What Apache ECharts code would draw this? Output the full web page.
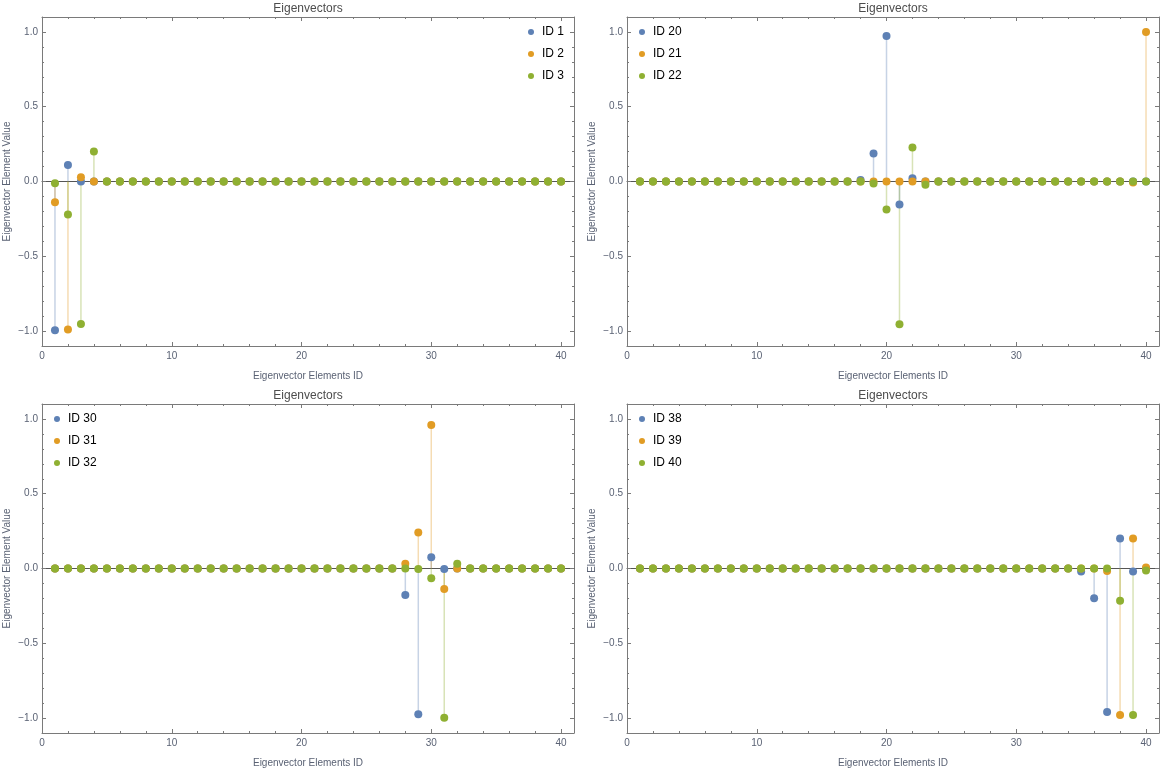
<!DOCTYPE html>
<html>
<head>
<meta charset="utf-8">
<title>Eigenvectors</title>
<script src="https://cdn.jsdelivr.net/npm/echarts@6/dist/echarts.min.js"></script>
<style>
html,body{margin:0;padding:0;background:#fff;}
#main{width:1161px;height:772px;}
</style>
</head>
<body>
<div id="main"></div>
<script>
// eigenvector element ids (x)
var elementIds = [1,2,3,4,5,6,7,8,9,10,11,12,13,14,15,16,17,18,19,20,
                  21,22,23,24,25,26,27,28,29,30,31,32,33,34,35,36,37,38,39,40];

// panel 1
var id1  = [-0.994,0.11,0,0,0,0,0,0,0,0, 0,0,0,0,0,0,0,0,0,0, 0,0,0,0,0,0,0,0,0,0, 0,0,0,0,0,0,0,0,0,0];
var id2  = [-0.139,-0.99,0.029,0,0,0,0,0,0,0, 0,0,0,0,0,0,0,0,0,0, 0,0,0,0,0,0,0,0,0,0, 0,0,0,0,0,0,0,0,0,0];
var id3  = [-0.011,-0.221,-0.953,0.201,0,0,0,0,0,0, 0,0,0,0,0,0,0,0,0,0, 0,0,0,0,0,0,0,0,0,0, 0,0,0,0,0,0,0,0,0,0];
// panel 2
var id20 = [0,0,0,0,0,0,0,0,0,0, 0,0,0,0,0,0,0,0.01,0.188,0.973, -0.154,0.022,0,0,0,0,0,0,0,0, 0,0,0,0,0,0,0,0,0,0];
var id21 = [0,0,0,0,0,0,0,0,0,0, 0,0,0,0,0,0,0,0,0,0, 0,0,0,0,0,0,0,0,0,0, 0,0,0,0,0,0,0,0,-0.007,1.0];
var id22 = [0,0,0,0,0,0,0,0,0,0, 0,0,0,0,0,0,0,0,-0.013,-0.188, -0.955,0.228,-0.022,0,0,0,0,0,0,0, 0,0,0,0,0,0,0,0,0,0];
// panel 3
var id30 = [0,0,0,0,0,0,0,0,0,0, 0,0,0,0,0,0,0,0,0,0, 0,0,0,0,0,0,0,-0.177,-0.975,0.076, -0.004,0,0,0,0,0,0,0,0,0];
var id31 = [0,0,0,0,0,0,0,0,0,0, 0,0,0,0,0,0,0,0,0,0, 0,0,0,0,0,0,0,0.031,0.24,0.96, -0.137,0,0,0,0,0,0,0,0,0];
var id32 = [0,0,0,0,0,0,0,0,0,0, 0,0,0,0,0,0,0,0,0,0, 0,0,0,0,0,0,0,0,-0.004,-0.065, -0.998,0.031,0,0,0,0,0,0,0,0];
// panel 4
var id38 = [0,0,0,0,0,0,0,0,0,0, 0,0,0,0,0,0,0,0,0,0, 0,0,0,0,0,0,0,0,0,0, 0,0,0,0,-0.02,-0.199,-0.96,0.201,-0.02,0];
var id39 = [0,0,0,0,0,0,0,0,0,0, 0,0,0,0,0,0,0,0,0,0, 0,0,0,0,0,0,0,0,0,0, 0,0,0,0,0,0,-0.016,-0.98,0.201,0.007];
var id40 = [0,0,0,0,0,0,0,0,0,0, 0,0,0,0,0,0,0,0,0,0, 0,0,0,0,0,0,0,0,0,0, 0,0,0,0,0,0,0,-0.215,-0.98,-0.013];

var panelNames  = [['ID 1','ID 2','ID 3'], ['ID 20','ID 21','ID 22'], ['ID 30','ID 31','ID 32'], ['ID 38','ID 39','ID 40']];
var panelValues = [[id1,id2,id3], [id20,id21,id22], [id30,id31,id32], [id38,id39,id40]];

// tick labels
var xTickLabels = [0,10,20,30,40];
var yTickLabels = [-1,-0.5,0,0.5,1];

var colors = ['#5e81b5','#e19c24','#8fb032'];
var stemColors = ['rgba(94,129,181,0.35)','rgba(225,156,36,0.35)','rgba(143,176,50,0.35)'];
var frameColor = '#7a7a7a';
var labelColor = '#5a6274';
var font = 'Liberation Sans, Arial, sans-serif';

var grids = [
    {left:42,  top:17,  width:532, height:329},
    {left:627, top:17,  width:532, height:329},
    {left:42,  top:404, width:532, height:329},
    {left:627, top:404, width:532, height:329}
];
var legendPos = [{left:528, top:25}, {left:639, top:25}, {left:54, top:412}, {left:639, top:412}];

// minor tick positions
var xMinor = [], yMinor = [];
for (var i = 0; i <= 41; i += 2) xMinor.push(i);
for (var k = -11; k <= 11; k++) yMinor.push(k / 10);

var xAxes = [], yAxes = [], series = [], legends = [];

function addX(g, pos, ticks, len, opts) {
    opts = opts || {};
    xAxes.push({
        gridIndex: g, type: 'value', position: pos, min: 0, max: 41,
        splitLine: {show: false},
        axisLine: {show: !opts.noLine, onZero: false, lineStyle: {color: frameColor, width: 1}},
        axisTick: {show: true, inside: true, length: len, customValues: ticks, lineStyle: {color: frameColor}},
        axisLabel: opts.labels ? {show: true, customValues: xTickLabels, margin: 5, color: labelColor, fontSize: 10, fontFamily: font} : {show: false},
        name: opts.name || '', nameLocation: 'middle', nameGap: opts.nameGap || 0,
        nameTextStyle: opts.nameStyle || {}
    });
    return xAxes.length - 1;
}

function addY(g, pos, ticks, len, opts) {
    opts = opts || {};
    yAxes.push({
        gridIndex: g, type: 'value', position: pos, min: -1.1, max: 1.1,
        splitLine: {show: false},
        axisLine: {show: !opts.noLine, onZero: false, lineStyle: {color: frameColor, width: 1}},
        axisTick: {show: true, inside: true, length: len, customValues: ticks, lineStyle: {color: frameColor}},
        axisLabel: opts.labels ? {
            show: true, customValues: yTickLabels, margin: 4, color: labelColor, fontSize: 10, fontFamily: font,
            formatter: function (v) {
                var s = Math.abs(v).toFixed(1);
                return v < 0 ? '\u2212' + s : s;
            }
        } : {show: false},
        name: opts.name || '', nameLocation: 'middle', nameGap: opts.nameGap || 0,
        nameTextStyle: opts.nameStyle || {}
    });
    return yAxes.length - 1;
}

for (var g = 0; g < 4; g++) {
    var yMain = addY(g, 'left', yTickLabels, 4, {
        labels: true, name: 'Eigenvector Element Value', nameGap: 30,
        nameStyle: {color: labelColor, fontSize: 10, fontFamily: font}
    });
    addY(g, 'left', yMinor, 2, {noLine: true});
    addY(g, 'right', yTickLabels, 4, {});
    addY(g, 'right', yMinor, 2, {noLine: true});

    var xMain = addX(g, 'bottom', xTickLabels, 4, {
        labels: true, name: 'Eigenvector Elements ID', nameGap: 25,
        nameStyle: {color: labelColor, fontSize: 10, fontFamily: font}
    });
    addX(g, 'bottom', xMinor, 2, {noLine: true});
    addX(g, 'top', xTickLabels, 4, {
        name: 'Eigenvectors', nameGap: 2,
        nameStyle: {color: '#4d4d4d', fontSize: 12, fontFamily: font}
    });
    addX(g, 'top', xMinor, 2, {noLine: true});

    // zero line
    xAxes.push({
        gridIndex: g, type: 'value', position: 'bottom', min: 0, max: 41,
        splitLine: {show: false}, axisTick: {show: false}, axisLabel: {show: false},
        axisLine: {show: true, onZero: true, onZeroAxisIndex: yMain, lineStyle: {color: '#555', width: 1}}
    });

    var names = panelNames[g];
    var vals = panelValues[g];

    // stems first
    for (var s = 0; s < 3; s++) {
        var pts = [];
        for (var j = 0; j < elementIds.length; j++) pts.push([elementIds[j], vals[s][j]]);
        (function (col) {
            series.push({
                name: 'stem ' + names[s], type: 'custom', xAxisIndex: xMain, yAxisIndex: yMain,
                z: 1, silent: true, data: pts,
                renderItem: function (params, api) {
                    var p0 = api.coord([api.value(0), 0]);
                    var p1 = api.coord([api.value(0), api.value(1)]);
                    return {type: 'line', shape: {x1: p0[0], y1: p0[1], x2: p1[0], y2: p1[1]},
                            style: {stroke: col, lineWidth: 1.5}};
                }
            });
        })(stemColors[s]);
    }
    for (var s2 = 0; s2 < 3; s2++) {
        var pts2 = [];
        for (var j2 = 0; j2 < elementIds.length; j2++) pts2.push([elementIds[j2], vals[s2][j2]]);
        series.push({
            name: names[s2], type: 'scatter', xAxisIndex: xMain, yAxisIndex: yMain,
            z: 3, symbol: 'circle', symbolSize: 8, data: pts2,
            itemStyle: {color: colors[s2], opacity: 1}
        });
    }

    legends.push({
        data: names, orient: 'vertical', left: legendPos[g].left, top: legendPos[g].top,
        icon: 'circle', itemWidth: 12, itemHeight: 6, itemGap: 8, padding: 0,
        textStyle: {color: '#000', fontSize: 12, fontFamily: font, lineHeight: 14}
    });
}

var myChart = echarts.init(document.getElementById('main'));
var option = {
    animation: false,
    backgroundColor: '#fff',
    grid: grids,
    xAxis: xAxes,
    yAxis: yAxes,
    legend: legends,
    series: series
};
myChart.setOption(option);
</script>
</body>
</html>
